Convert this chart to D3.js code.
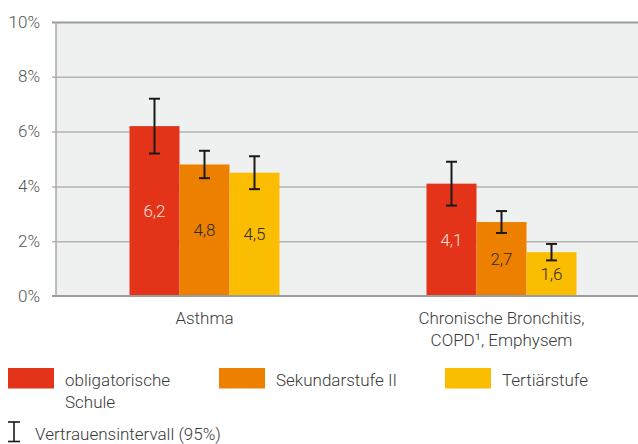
<!DOCTYPE html>
<html>
<head>
<meta charset="utf-8">
<script src="https://cdn.jsdelivr.net/npm/d3@7"></script>
<style>
  body { margin: 0; background: #fff; }
  svg { display: block; font-family: Roboto, "Noto Sans", sans-serif; font-weight: 300; }
</style>
</head>
<body>
<svg></svg>
<script>
let categories = [["Asthma"], ["Chronische Bronchitis,", "COPD¹, Emphysem"]];
let series = ["obligatorische Schule", "Sekundarstufe II", "Tertiärstufe"];
let colors = ["#e3341a", "#ee8000", "#fbbd00"];
let values = [[6.2, 4.8, 4.5], [4.1, 2.7, 1.6]];
let lower = [[5.2, 4.3, 3.9], [3.3, 2.3, 1.3]];
let upper = [[7.2, 5.3, 5.1], [4.9, 3.1, 1.9]];
let yTicks = [0, 2, 4, 6, 8, 10];

let width = 638;
let height = 444;
let plotLeft = 56;
let plotTop = 22;
let plotBottom = 296;
let fontSize = "17px";

let svg = d3.select("svg").attr("width", width).attr("height", height);

let xScale = d3.scaleBand()
  .domain(d3.range(categories.length))
  .range([plotLeft, 650])
  .paddingInner(0.495)
  .paddingOuter(0.2475);

let xInner = d3.scaleBand()
  .domain(d3.range(series.length))
  .range([0, xScale.bandwidth()]);

let yScale = d3.scaleLinear().domain([0, 10]).range([plotBottom, plotTop]);

// plot background
svg.append("rect")
  .attr("x", plotLeft).attr("y", plotTop)
  .attr("width", width - plotLeft).attr("height", plotBottom - plotTop)
  .attr("fill", "#eff0f0");

// y axis with gridlines
let yAxis = d3.axisLeft(yScale)
  .tickValues(yTicks)
  .tickFormat(d => d + "%")
  .tickSize(-(width - plotLeft + 4))
  .tickPadding(12);

let gy = svg.append("g")
  .attr("transform", "translate(" + (plotLeft - 4) + ",0)")
  .call(yAxis);
gy.select(".domain").remove();
gy.selectAll("line")
  .attr("stroke", d => d === 10 ? "#9c9c9c" : "#b3b3b3")
  .attr("stroke-width", d => d === 10 ? 2 : 1.5);
gy.selectAll("line").filter(d => d === 0).remove();
gy.selectAll("text")
  .style("font-size", fontSize)
  .style("font-family", "Roboto")
  .style("font-weight", 300)
  .attr("dy", "0.3em")
  .attr("fill", "#555");

// left axis line
svg.append("line")
  .attr("x1", plotLeft).attr("x2", plotLeft)
  .attr("y1", plotTop).attr("y2", plotBottom)
  .attr("stroke", "#aaa").attr("stroke-width", 1.5);

// bars
let groups = svg.selectAll(".grp")
  .data(values)
  .enter()
  .append("g")
  .attr("transform", (d, i) => "translate(" + xScale(i) + ",0)");

groups.selectAll("rect")
  .data(d => d)
  .enter()
  .append("rect")
  .attr("x", (d, j) => xInner(j))
  .attr("y", d => yScale(d))
  .attr("width", xInner.bandwidth())
  .attr("height", d => yScale(0) - yScale(d))
  .attr("fill", (d, j) => colors[j]);

// value labels
groups.selectAll(".val")
  .data(d => d)
  .enter()
  .append("text")
  .attr("x", (d, j) => xInner(j) + xInner.bandwidth() / 2)
  .attr("y", d => yScale(d / 2))
  .attr("dy", "0.35em")
  .attr("text-anchor", "middle")
  .style("font-size", fontSize)
  .attr("fill", (d, j) => j === 0 ? "#fbe0da" : "#2b2b2b")
  .text(d => String(d).replace(".", ","));

// error bars
groups.each(function (d, i) {
  let g = d3.select(this);
  d.forEach((v, j) => {
    let cx = xInner(j) + xInner.bandwidth() / 2;
    let y1 = yScale(upper[i][j]);
    let y2 = yScale(lower[i][j]);
    let eb = g.append("g").attr("stroke", "#1a1a1a").attr("stroke-width", 2);
    eb.append("line").attr("x1", cx).attr("x2", cx).attr("y1", y1).attr("y2", y2);
    eb.append("line").attr("x1", cx - 5.5).attr("x2", cx + 5.5).attr("y1", y1).attr("y2", y1);
    eb.append("line").attr("x1", cx - 5.5).attr("x2", cx + 5.5).attr("y1", y2).attr("y2", y2);
  });
});

// baseline
svg.append("line")
  .attr("x1", plotLeft - 4).attr("x2", width)
  .attr("y1", yScale(0)).attr("y2", yScale(0))
  .attr("stroke", "#9c9c9c").attr("stroke-width", 2);

// category labels
categories.forEach((lines, i) => {
  let t = svg.append("text")
    .attr("text-anchor", "middle")
    .style("font-size", fontSize)
    .attr("fill", "#3a3a3a");
  lines.forEach((ln, k) => {
    t.append("tspan")
      .attr("x", xScale(i) + xScale.bandwidth() / 2)
      .attr("y", 323.5 + k * 22.5)
      .text(ln);
  });
});

// legend
let legendX = [8, 219, 445];
let legendLines = [["obligatorische", "Schule"], ["Sekundarstufe II"], ["Tertiärstufe"]];
let legend = svg.selectAll(".leg")
  .data(series)
  .enter()
  .append("g")
  .attr("transform", (d, i) => "translate(" + legendX[i] + ",368)");

legend.append("rect")
  .attr("width", 46).attr("height", 20.5)
  .attr("fill", (d, i) => colors[i]);

legend.each(function (d, i) {
  let t = d3.select(this).append("text")
    .style("font-size", fontSize)
    .attr("fill", "#3a3a3a");
  legendLines[i].forEach((p, k) => {
    t.append("tspan")
      .attr("x", 57)
      .attr("y", 18 + k * 21.8)
      .text(p);
  });
});

// confidence interval legend
let ci = svg.append("g").attr("stroke", "#1a1a1a").attr("stroke-width", 1.6);
ci.append("line").attr("x1", 14).attr("x2", 14).attr("y1", 422).attr("y2", 441.5);
ci.append("line").attr("x1", 8).attr("x2", 20).attr("y1", 422).attr("y2", 422);
ci.append("line").attr("x1", 8).attr("x2", 20).attr("y1", 441.5).attr("y2", 441.5);

svg.append("text")
  .attr("x", 35).attr("y", 439.5)
  .style("font-size", fontSize)
  .attr("fill", "#3a3a3a")
  .text("Vertrauensintervall (95%)");
</script>
</body>
</html>
